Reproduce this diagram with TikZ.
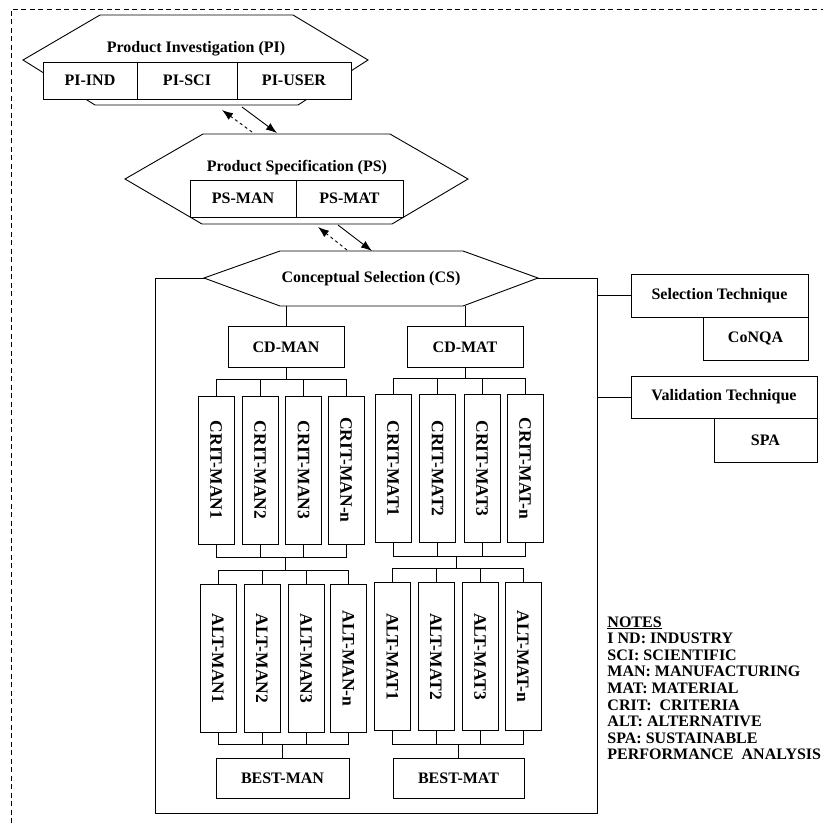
\documentclass[tikz,border=0pt]{standalone}
\usepackage{fontspec}
\setmainfont{Liberation Serif}
\usetikzlibrary{arrows.meta}

\tikzset{
  box/.style={draw, fill=white, inner sep=0pt, font=\bfseries\fontsize{16}{19}\selectfont},
  critbox/.style={box, rotate=-90, minimum width=148pt, minimum height=36pt, font=\bfseries\fontsize{17.5}{20}\selectfont},
  hexa/.style={draw, fill=white},
  title/.style={inner sep=0pt, font=\bfseries\fontsize{16}{19}\selectfont},
  note/.style={anchor=base west, inner sep=0pt, font=\bfseries\fontsize{16}{19}\selectfont},
}

\begin{document}
\begin{tikzpicture}[x=1pt,y=-1pt,line width=0.9pt,>={Latex[length=11pt,width=8pt]}]
\useasboundingbox (0,0) rectangle (823,823);
\draw[dash pattern=on 5pt off 3.5pt] (11,840) -- (11,9) -- (840,9);

% product investigation
\draw[hexa] (23,60) -- (100,15) -- (293,15) -- (368,60) -- (298,105) -- (95,105) -- cycle;
\node[title] (pi) at (196,49) {Product Investigation (PI)};
\node[box, minimum width=94pt, minimum height=37pt] (piind) at (90,80.5) {PI-IND};
\node[box, minimum width=100pt, minimum height=37pt] (pisci) at (187,80.5) {PI-SCI};
\node[box, minimum width=114pt, minimum height=37pt] (piuser) at (294,80.5) {PI-USER};

% product specification
\draw[hexa] (125,179) -- (203,134) -- (390,134) -- (468,179) -- (392,224) -- (202,224) -- cycle;
\node[title] (ps) at (297,168) {Product Specification (PS)};
\node[box, minimum width=106pt, minimum height=37pt] (psman) at (243,198.5) {PS-MAN};
\node[box, minimum width=107pt, minimum height=37pt] (psmat) at (349.5,198.5) {PS-MAT};

\coordinate (pia) at (242,107);
\coordinate (psa) at (277,133);
\coordinate (psb) at (252,132);
\coordinate (pib) at (222,110);
\draw[->] (pia) -- (psa);
\draw[->,dashed] (psb) -- (pib);

\coordinate (psc) at (338,225);
\coordinate (csa) at (372,251);
\coordinate (csb) at (347,250);
\coordinate (psd) at (318,227);
\draw[->] (psc) -- (csa);
\draw[->,dashed] (csb) -- (psd);

% conceptual selection
\node[draw, minimum width=442pt, minimum height=535pt] (frame) at (376,545.5) {};
\draw[hexa] (204,278) -- (280,251) -- (463,251) -- (538,278) -- (463,306) -- (280,306) -- cycle;
\coordinate (csS) at (371,306);
\node[title] (cs) at (371,279) {Conceptual Selection (CS)};

\node[box, minimum width=116pt, minimum height=41pt] (cdman) at (286,347) {CD-MAN};
\node[box, minimum width=116pt, minimum height=41pt] (cdmat) at (465,347) {CD-MAT};
\draw (cdman.north) -- (cdman.north |- csS);
\draw (cdmat.north) -- (cdmat.north |- csS);

\node[critbox] (critman1) at (216,470) {CRIT-MAN1};
\node[critbox] (critman2) at (260,470) {CRIT-MAN2};
\node[critbox] (critman3) at (303.5,470) {CRIT-MAN3};
\node[critbox] (critmann) at (346,470) {CRIT-MAN-n};
\node[critbox] (critmat1) at (393,468.5) {CRIT-MAT1};
\node[critbox] (critmat2) at (437.5,468.5) {CRIT-MAT2};
\node[critbox] (critmat3) at (482,468.5) {CRIT-MAT3};
\node[critbox] (critmatn) at (525,468.5) {CRIT-MAT-n};

\coordinate (manbus) at (286,379);
\coordinate (matbus) at (465,378);
\draw (cdman.south) -- (manbus);
\draw (cdmat.south) -- (matbus);
\draw (critman1.west) |- (manbus);
\draw (critman2.west) |- (manbus);
\draw (critman3.west) |- (manbus);
\draw (critmann.west) |- (manbus);
\draw (critmat1.west) |- (matbus);
\draw (critmat2.west) |- (matbus);
\draw (critmat3.west) |- (matbus);
\draw (critmatn.west) |- (matbus);

\node[critbox] (altman1) at (218,658.5) {ALT-MAN1};
\node[critbox] (altman2) at (262,658.5) {ALT-MAN2};
\node[critbox] (altman3) at (306,658.5) {ALT-MAN3};
\node[critbox] (altmann) at (348.5,658.5) {ALT-MAN-n};
\node[critbox] (altmat1) at (392.5,656.5) {ALT-MAT1};
\node[critbox] (altmat2) at (436,656.5) {ALT-MAT2};
\node[critbox] (altmat3) at (480,656.5) {ALT-MAT3};
\node[critbox] (altmatn) at (523,656.5) {ALT-MAT-n};

\coordinate (mancrit) at (285,557);
\coordinate (manalt) at (285,570);
\coordinate (matcrit) at (456,556);
\coordinate (matalt) at (456,568);
\draw (mancrit) -- (manalt);
\draw (matcrit) -- (matalt);
\draw (critman1.east) |- (mancrit);
\draw (critman2.east) |- (mancrit);
\draw (critman3.east) |- (mancrit);
\draw (critmann.east) |- (mancrit);
\draw (critmat1.east) |- (matcrit);
\draw (critmat2.east) |- (matcrit);
\draw (critmat3.east) |- (matcrit);
\draw (critmatn.east) |- (matcrit);
\draw (altman1.west) |- (manalt);
\draw (altman2.west) |- (manalt);
\draw (altman3.west) |- (manalt);
\draw (altmann.west) |- (manalt);
\draw (altmat1.west) |- (matalt);
\draw (altmat2.west) |- (matalt);
\draw (altmat3.west) |- (matalt);
\draw (altmatn.west) |- (matalt);

\node[box, minimum width=133pt, minimum height=40pt] (bestman) at (282.5,778) {BEST-MAN};
\node[box, minimum width=131pt, minimum height=40pt] (bestmat) at (458.5,778) {BEST-MAT};
\coordinate (manbest) at (282.5,744);
\coordinate (matbest) at (458.5,744);
\draw (bestman.north) -- (manbest);
\draw (bestmat.north) -- (matbest);
\draw (altman1.east) |- (manbest);
\draw (altman2.east) |- (manbest);
\draw (altman3.east) |- (manbest);
\draw (altmann.east) |- (manbest);
\draw (altmat1.east) |- (matbest);
\draw (altmat2.east) |- (matbest);
\draw (altmat3.east) |- (matbest);
\draw (altmatn.east) |- (matbest);

% techniques
\node[box, minimum width=177pt, minimum height=43pt] (selt) at (719.5,295.5) {Selection Technique};
\node[box, minimum width=105pt, minimum height=43pt] (conqa) at (755.5,338.5) {CoNQA};
\node[box, minimum width=186pt, minimum height=42pt] (valt) at (724,397) {Validation Technique};
\node[box, minimum width=103pt, minimum height=44pt] (spa) at (765.5,440) {SPA};
\draw (selt.west) -- (selt.west -| frame.east);
\draw (valt.west) -- (valt.west -| frame.east);

% notes
\node[note] (n1) at (607,627) {\underline{NOTES}};
\node[note] (n2) at (607,643.6) {I ND: INDUSTRY};
\node[note] (n3) at (607,660.2) {SCI: SCIENTIFIC};
\node[note] (n4) at (607,676.8) {MAN: MANUFACTURING};
\node[note] (n5) at (607,693.4) {MAT: MATERIAL};
\node[note] (n6) at (607,710) {CRIT:\ \ CRITERIA};
\node[note] (n7) at (607,726.6) {ALT: ALTERNATIVE};
\node[note] (n8) at (607,743.2) {SPA: SUSTAINABLE};
\node[note] (n9) at (607,759.8) {PERFORMANCE\ \ ANALYSIS};
\end{tikzpicture}
\end{document}
